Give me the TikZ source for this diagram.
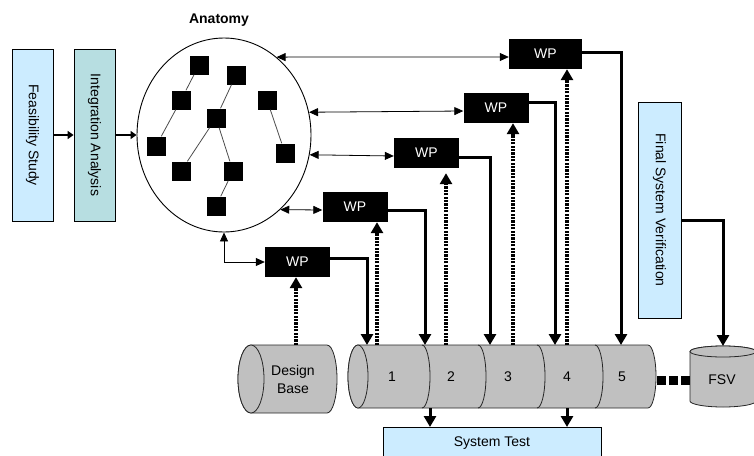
\documentclass[tikz,border=0pt]{standalone}
\usepackage{fontspec}
\setmainfont{Liberation Sans}
\usetikzlibrary{arrows.meta,shapes.geometric}
\definecolor{paleblue}{HTML}{CCECFF}
\definecolor{paleteal}{HTML}{B7DEE1}
\definecolor{drumgray}{HTML}{C0C0C0}
\tikzset{
  smallhead/.tip={Triangle[width=8pt,length=9pt]},
  bighead/.tip={Triangle[width=12pt,length=11pt]},
  stubhead/.tip={Triangle[width=8pt,length=6pt]},
  phase/.style={draw, line width=0.8pt, rotate=-90, minimum height=41pt, inner sep=0pt},
  wp/.style={fill=black, text=white, minimum width=65pt, minimum height=30pt, inner sep=0pt},
  part/.style={fill=black, minimum size=19pt, inner sep=0pt},
  link/.style={draw=black!70, line width=0.8pt},
  dual/.style={line width=0.8pt, {smallhead}-{smallhead}},
  feed/.style={line width=3pt, -{bighead}},
  stub/.style={line width=2.6pt, -{stubhead}},
  trace/.style={line width=3.6pt, dash pattern=on 2.3pt off 1.1pt, -{bighead}},
  cyl/.style={fill=drumgray, draw=black!85, line width=0.8pt},
}
\begin{document}
\begin{tikzpicture}[x=1pt, y=-1pt, font=\fontsize{14}{18}\selectfont]
\useasboundingbox (0,0) rectangle (754,455);
\clip (0,0) rectangle (754,455);

% early phases
\node[phase, fill=paleblue, minimum width=172pt] (fs) at (32.5,135) {Feasibility Study};
\node[phase, fill=paleteal, minimum width=172pt] (ia) at (94.5,135) {Integration Analysis};

% system anatomy
\node[draw, ellipse, line width=0.9pt, minimum width=174pt, minimum height=194pt, inner sep=0pt] (anatomy) at (224,135) {};
\node[font=\fontsize{14}{18}\selectfont\bfseries] (anatlabel) at (219,20) {Anatomy};
\node[part] (a1) at (199,65) {};
\node[part] (a2) at (236,75) {};
\node[part] (a3) at (181,100) {};
\node[part] (a4) at (267,100) {};
\node[part] (a5) at (216,118) {};
\node[part] (a6) at (156,146) {};
\node[part] (a7) at (285,153) {};
\node[part] (a8) at (181,171) {};
\node[part] (a9) at (233,171) {};
\node[part] (a10) at (216,206) {};
\draw[link] (a1) -- (a3);
\draw[link] (a3) -- (a6);
\draw[link] (a2) -- (a5);
\draw[link] (a5) -- (a8);
\draw[link] (a5) -- (a9);
\draw[link] (a9) -- (a10);
\draw[link] (a4) -- (a7);

\draw[stub] (fs.north) -- (ia.south);
\draw[stub] (ia.north) -- (anatomy.west);

% work packages
\node[wp, minimum width=73pt] (wp5) at (545.5,54) {WP};
\node[wp] (wp4) at (496,108) {WP};
\node[wp] (wp3) at (426.5,153) {WP};
\node[wp] (wp2) at (355,207) {WP};
\node[wp] (wp1) at (297.5,262) {WP};

\draw[dual] (anatomy.56.5) -- ([yshift=-3pt]wp5.west);
\draw[dual] (anatomy.15.9) -- ([yshift=-3pt]wp4.west);
\draw[dual] (anatomy.-13.9) -- ([yshift=-3pt]wp3.west);
\draw[dual] (anatomy.-53.6) -- ([yshift=-3pt]wp2.west);
\draw[dual] (anatomy.south) |- (wp1.west);

% design base cylinder
\filldraw[cyl] (251,345) -- (327,345) arc[start angle=90, end angle=-90, x radius=10pt, y radius=34pt]
  -- (251,413) arc[start angle=270, end angle=90, x radius=13pt, y radius=34pt] -- cycle;
\filldraw[cyl] (251,379) ellipse[x radius=13pt, y radius=34pt];
\node[align=center] (dbase) at (293,379) {Design\\Base};

% build increments
\filldraw[cyl] (358,345) -- (648,345) arc[start angle=90, end angle=-90, x radius=8pt, y radius=31.5pt]
  -- (358,408) arc[start angle=270, end angle=90, x radius=10pt, y radius=31.5pt] -- cycle;
\filldraw[cyl] (358,376.5) ellipse[x radius=10pt, y radius=31.5pt];
\foreach \d in {422,478,537,595}
  \draw[cyl, fill=none] (\d,345) arc[start angle=90, end angle=-90, x radius=8pt, y radius=31.5pt];
\node (s1) at (392,377) {1};
\node (s2) at (451,377) {2};
\node (s3) at (508,377) {3};
\node (s4) at (567,377) {4};
\node (s5) at (622,377) {5};

% final verification cylinder
\filldraw[cyl] (690,351.5) -- (690,401) arc[start angle=180, end angle=360, x radius=33pt, y radius=6pt]
  -- (756,351.5) arc[start angle=0, end angle=180, x radius=33pt, y radius=5.5pt] -- cycle;
\filldraw[cyl] (723,351.5) ellipse[x radius=33pt, y radius=5.5pt];
\node (fsv) at (722,380) {FSV};

% attachment points on the cylinders
\coordinate (in1) at (367,345);
\coordinate (in2) at (425,345);
\coordinate (in3) at (490,345);
\coordinate (in4) at (555,345);
\coordinate (in5) at (621,345);
\coordinate (u1) at (296,345);
\coordinate (u2) at (377,345);
\coordinate (u3) at (446,345);
\coordinate (u4) at (513,345);
\coordinate (u5) at (567,345);
\coordinate (o1) at (430,408);
\coordinate (o2) at (567,408);
\coordinate (drumend) at (657,380);
\coordinate (fsvside) at (690,380);
\coordinate (fsvtop) at (723,346);

% work packages feed the increments
\draw[feed] ([yshift=2pt]wp5.east) -| (in5);
\draw[feed] ([yshift=6pt]wp4.east) -| (in4);
\draw[feed] ([yshift=-4pt]wp3.east) -| (in3);
\draw[feed] ([yshift=-3pt]wp2.east) -| (in2);
\draw[feed] ([yshift=4pt]wp1.east) -| (in1);

% increments feed back into the next work packages
\draw[trace] (u1) -- (u1 |- wp1.south);
\draw[trace] (u2) -- (u2 |- wp2.south);
\draw[trace] (u3) -- ([yshift=-5pt]u3 |- wp3.south);
\draw[trace] (u4) -- (u4 |- wp4.south);
\draw[trace] (u5) -- (u5 |- wp5.south);

% final system verification
\node[phase, fill=paleblue, minimum width=216pt, minimum height=43pt] (fsvbox) at (659.5,210) {Final System Verification};
\draw[feed] ([yshift=-10pt]fsvbox.north) -| (fsvtop);
\draw[line width=9pt, dash pattern=on 9pt off 3pt] (drumend) -- (fsvside);

% system test
\node[draw, fill=paleblue, line width=0.8pt, anchor=north, minimum width=218pt,
      text height=19pt, text depth=20pt, inner ysep=0pt] (systest) at (492,427) {System Test};
\draw[feed] (o1) -- (o1 |- systest.north);
\draw[feed] (o2) -- (o2 |- systest.north);
\end{tikzpicture}
\end{document}
